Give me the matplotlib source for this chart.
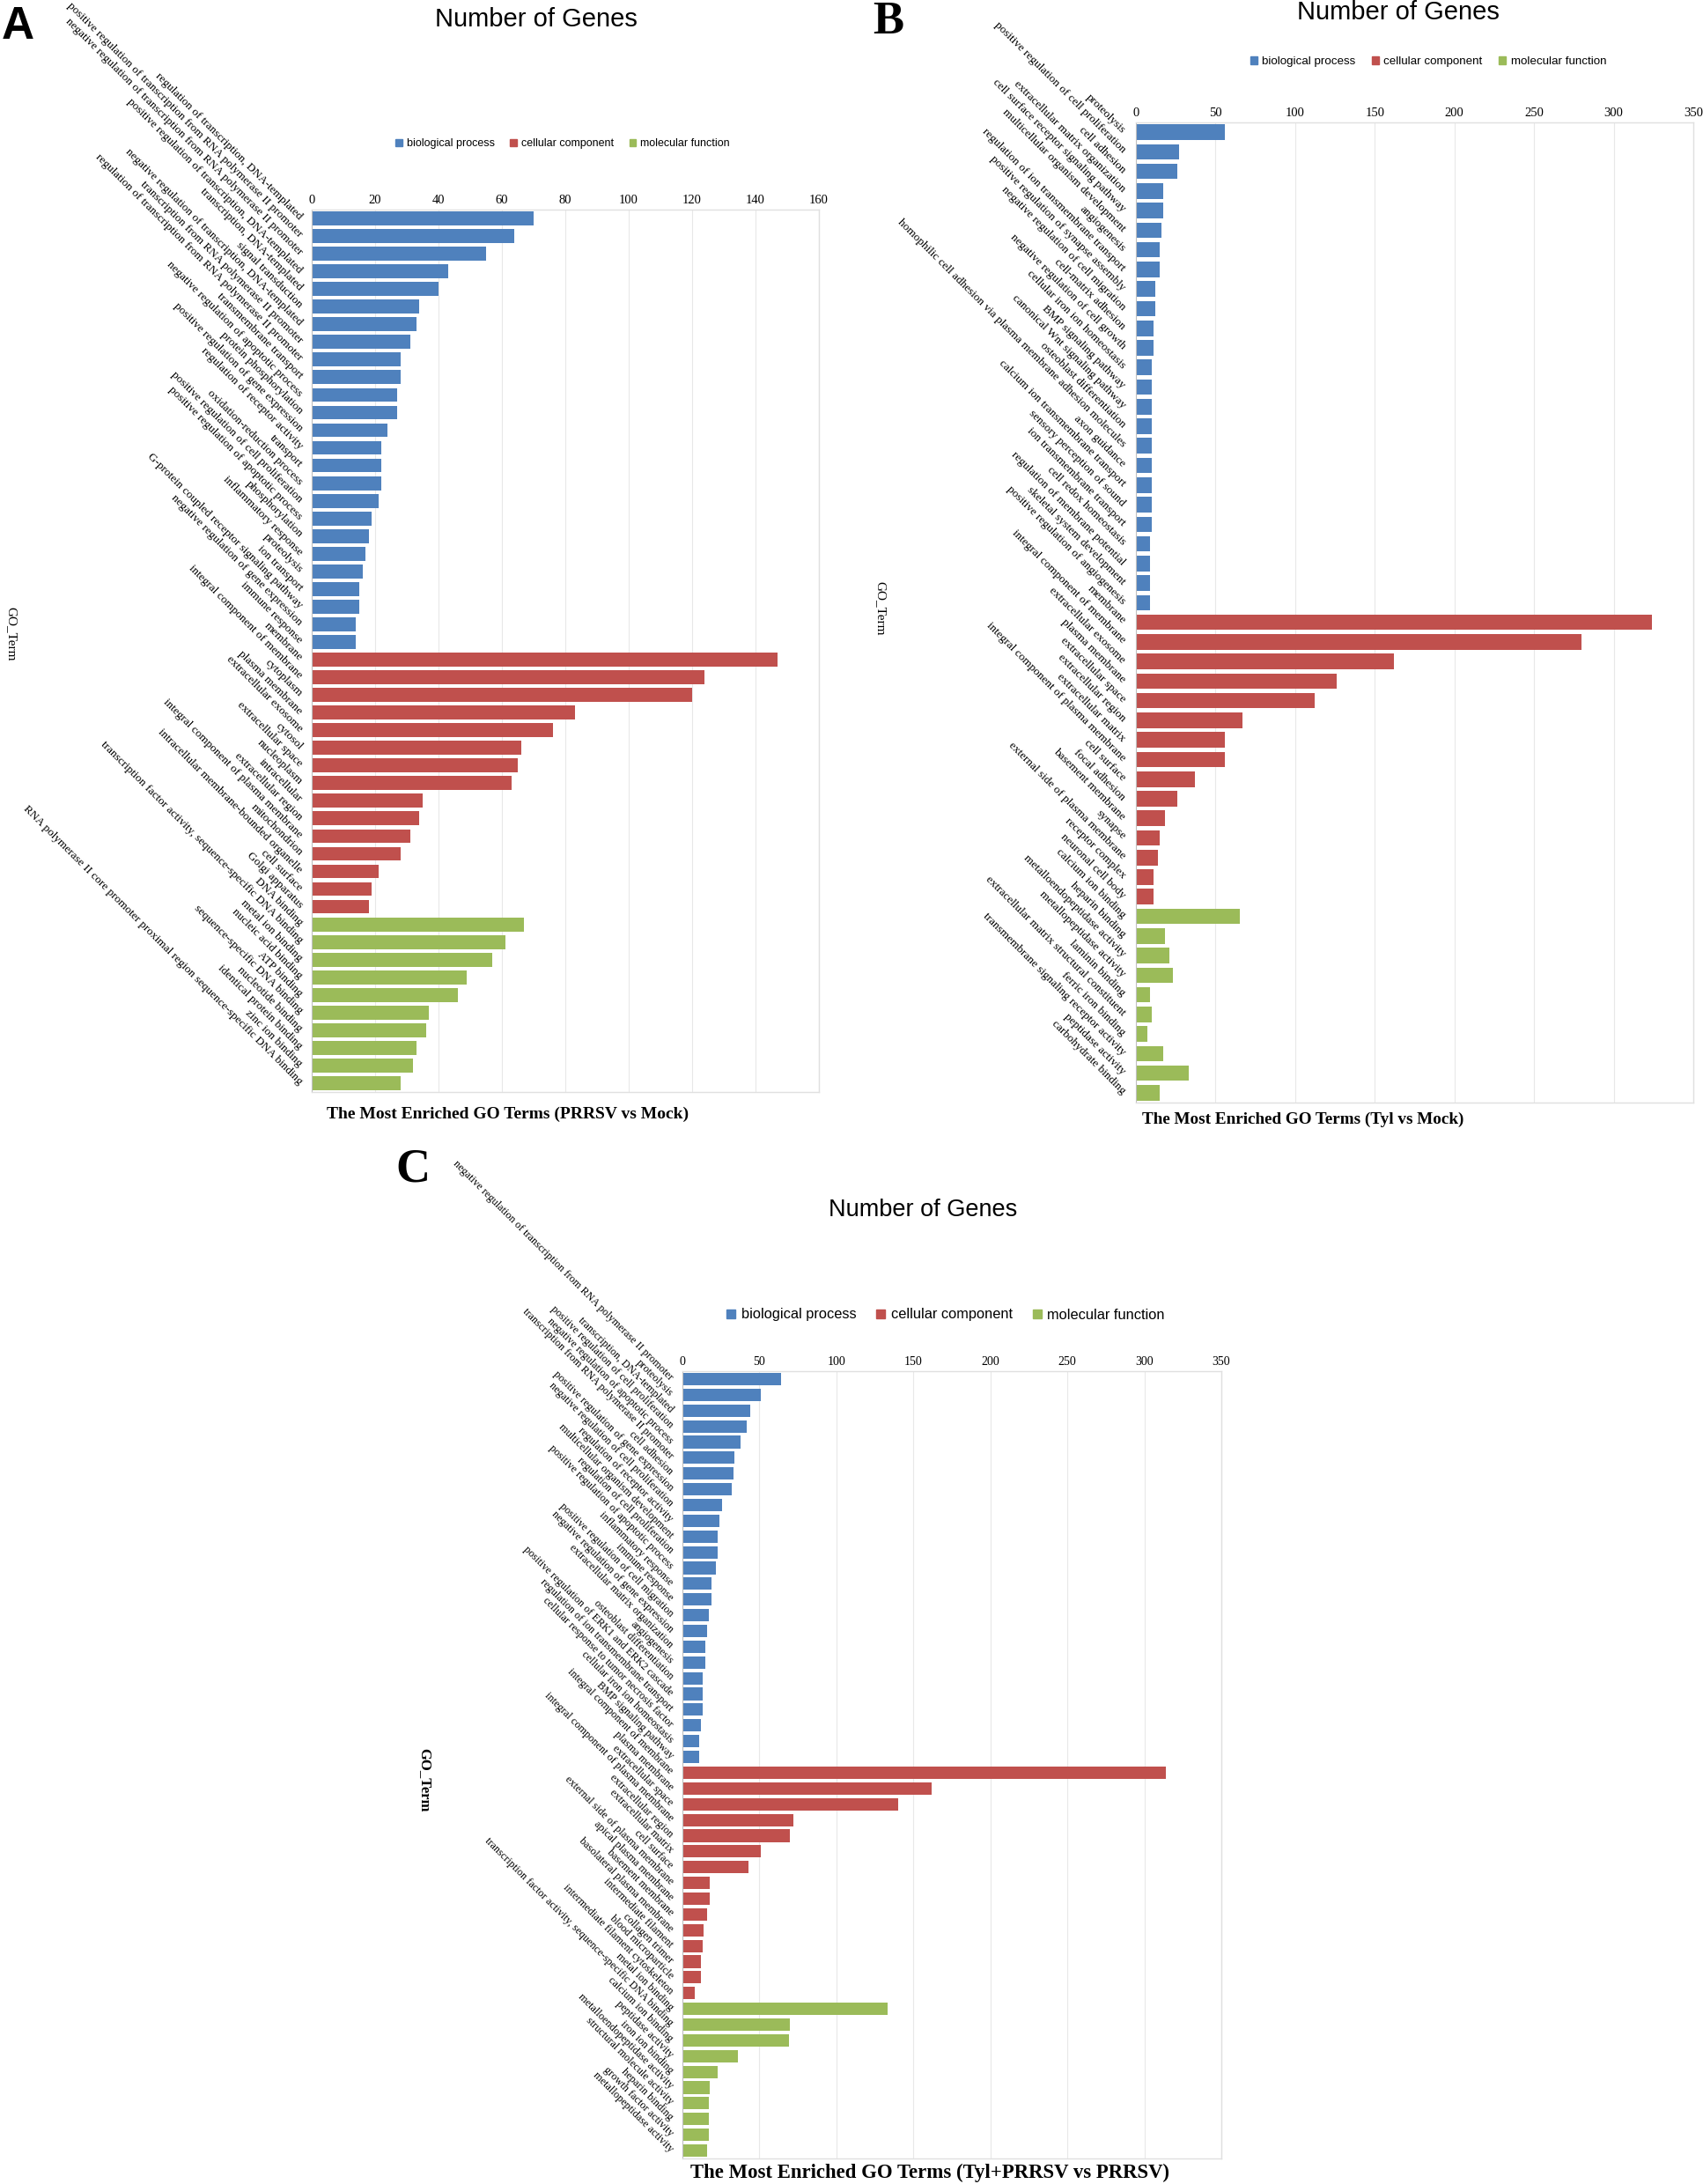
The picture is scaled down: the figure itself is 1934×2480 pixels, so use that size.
import numpy as np
import matplotlib
matplotlib.use('Agg')
import matplotlib.pyplot as plt
from matplotlib.patches import Patch

plt.rcParams['font.family'] = ['Liberation Serif', 'DejaVu Serif']

# ---------------- data: panel A (PRRSV vs Mock) ----------------
a_bp_terms = [
    'regulation of transcription, DNA-templated',
    'positive regulation of transcription from RNA polymerase II promoter',
    'negative regulation of transcription from RNA polymerase II promoter',
    'positive regulation of transcription, DNA-templated',
    'transcription, DNA-templated',
    'signal transduction',
    'negative regulation of transcription, DNA-templated',
    'transcription from RNA polymerase II promoter',
    'regulation of transcription from RNA polymerase II promoter',
    'transmembrane transport',
    'negative regulation of apoptotic process',
    'protein phosphorylation',
    'positive regulation of gene expression',
    'regulation of receptor activity',
    'transport',
    'oxidation-reduction process',
    'positive regulation of cell proliferation',
    'positive regulation of apoptotic process',
    'phosphorylation',
    'inflammatory response',
    'proteolysis',
    'ion transport',
    'G-protein coupled receptor signaling pathway',
    'negative regulation of gene expression',
    'immune response',
]
a_bp_counts = [70, 64, 55, 43, 40, 34, 33, 31, 28, 28, 27, 27, 24, 22, 22,
               22, 21, 19, 18, 17, 16, 15, 15, 14, 14]
a_cc_terms = [
    'membrane',
    'integral component of membrane',
    'cytoplasm',
    'plasma membrane',
    'extracellular exosome',
    'cytosol',
    'extracellular space',
    'nucleoplasm',
    'intracellular',
    'extracellular region',
    'integral component of plasma membrane',
    'mitochondrion',
    'intracellular membrane-bounded organelle',
    'cell surface',
    'Golgi apparatus',
]
a_cc_counts = [147, 124, 120, 83, 76, 66, 65, 63, 35, 34, 31, 28, 21, 19, 18]
a_mf_terms = [
    'DNA binding',
    'transcription factor activity, sequence-specific DNA binding',
    'metal ion binding',
    'nucleic acid binding',
    'ATP binding',
    'sequence-specific DNA binding',
    'nucleotide binding',
    'identical protein binding',
    'zinc ion binding',
    'RNA polymerase II core promoter proximal region sequence-specific DNA binding',
]
a_mf_counts = [67, 61, 57, 49, 46, 37, 36, 33, 32, 28]

# ---------------- data: panel B (Tyl vs Mock) ----------------
b_bp_terms = [
    'proteolysis',
    'positive regulation of cell proliferation',
    'cell adhesion',
    'extracellular matrix organization',
    'cell surface receptor signaling pathway',
    'multicellular organism development',
    'angiogenesis',
    'regulation of ion transmembrane transport',
    'positive regulation of synapse assembly',
    'negative regulation of cell migration',
    'cell-matrix adhesion',
    'negative regulation of cell growth',
    'cellular iron ion homeostasis',
    'BMP signaling pathway',
    'canonical Wnt signaling pathway',
    'osteoblast differentiation',
    'homophilic cell adhesion via plasma membrane adhesion molecules',
    'axon guidance',
    'calcium ion transmembrane transport',
    'sensory perception of sound',
    'ion transmembrane transport',
    'cell redox homeostasis',
    'regulation of membrane potential',
    'skeletal system development',
    'positive regulation of angiogenesis',
]
b_bp_counts = [56, 27, 26, 17, 17, 16, 15, 15, 12, 12, 11, 11, 10, 10, 10,
               10, 10, 10, 10, 10, 10, 9, 9, 9, 9]
b_cc_terms = [
    'membrane',
    'integral component of membrane',
    'extracellular exosome',
    'plasma membrane',
    'extracellular space',
    'extracellular region',
    'extracellular matrix',
    'integral component of plasma membrane',
    'cell surface',
    'focal adhesion',
    'basement membrane',
    'synapse',
    'external side of plasma membrane',
    'receptor complex',
    'neuronal cell body',
]
b_cc_counts = [324, 280, 162, 126, 112, 67, 56, 56, 37, 26, 18, 15, 14, 11, 11]
b_mf_terms = [
    'calcium ion binding',
    'heparin binding',
    'metalloendopeptidase activity',
    'metallopeptidase activity',
    'laminin binding',
    'extracellular matrix structural constituent',
    'ferric iron binding',
    'transmembrane signaling receptor activity',
    'peptidase activity',
    'carbohydrate binding',
]
b_mf_counts = [65, 18, 21, 23, 9, 10, 7, 17, 33, 15]

# ---------------- data: panel C (Tyl+PRRSV vs PRRSV) ----------------
c_bp_terms = [
    'negative regulation of transcription from RNA polymerase II promoter',
    'proteolysis',
    'transcription, DNA-templated',
    'positive regulation of cell proliferation',
    'negative regulation of apoptotic process',
    'transcription from RNA polymerase II promoter',
    'cell adhesion',
    'positive regulation of gene expression',
    'negative regulation of cell proliferation',
    'regulation of receptor activity',
    'multicellular organism development',
    'regulation of cell proliferation',
    'positive regulation of apoptotic process',
    'inflammatory response',
    'immune response',
    'positive regulation of cell migration',
    'negative regulation of gene expression',
    'extracellular matrix organization',
    'angiogenesis',
    'osteoblast differentiation',
    'positive regulation of ERK1 and ERK2 cascade',
    'regulation of ion transmembrane transport',
    'cellular response to tumor necrosis factor',
    'cellular iron ion homeostasis',
    'BMP signaling pathway',
]
c_bp_counts = [64, 51, 44, 42, 38, 34, 33, 32, 26, 24, 23, 23, 22, 19, 19,
               17, 16, 15, 15, 13, 13, 13, 12, 11, 11]
c_cc_terms = [
    'integral component of membrane',
    'plasma membrane',
    'extracellular space',
    'integral component of plasma membrane',
    'extracellular region',
    'extracellular matrix',
    'cell surface',
    'external side of plasma membrane',
    'apical plasma membrane',
    'basement membrane',
    'basolateral plasma membrane',
    'intermediate filament',
    'collagen trimer',
    'blood microparticle',
    'intermediate filament cytoskeleton',
]
c_cc_counts = [314, 162, 140, 72, 70, 51, 43, 18, 18, 16, 14, 13, 12, 12, 8]
c_mf_terms = [
    'metal ion binding',
    'transcription factor activity, sequence-specific DNA binding',
    'calcium ion binding',
    'peptidase activity',
    'iron ion binding',
    'metalloendopeptidase activity',
    'structural molecule activity',
    'heparin binding',
    'growth factor activity',
    'metallopeptidase activity',
]
c_mf_counts = [133, 70, 69, 36, 23, 18, 17, 17, 17, 16]

categories = ['biological process', 'cellular component', 'molecular function']
cat_colors = ['#4F81BD', '#C0504D', '#9BBB59']

W, H = 1934, 2480
fig = plt.figure(figsize=(W / 100, H / 100), dpi=100)


def rect(x0, y0, x1, y1):
    # pixel box -> figure fraction
    return [x0 / W, 1 - y1 / H, (x1 - x0) / W, (y1 - y0) / H]


def draw_panel(ax, groups, xmax, xstep, lab_fs, tick_fs, pad):
    terms, counts, colors = [], [], []
    for (t, c), col in zip(groups, cat_colors):
        terms += t
        counts += c
        colors += [col] * len(t)
    y = np.arange(len(terms))
    ax.barh(y, counts, height=0.79, color=colors, zorder=2)
    ax.set_ylim(len(terms) - 0.5, -0.5)
    ax.set_xlim(0, xmax)
    ax.set_xticks(np.arange(0, xmax + 1, xstep))
    ax.xaxis.tick_top()
    ax.tick_params(axis='x', length=0, pad=3, labelsize=tick_fs)
    ax.grid(axis='x', color='#e8e8e8', linewidth=0.8, zorder=0)
    ax.set_axisbelow(True)
    ax.set_yticks(y)
    ax.set_yticklabels(terms, rotation=-45, ha='right', va='center',
                       rotation_mode='anchor', fontsize=lab_fs)
    ax.tick_params(axis='y', length=0, pad=pad)
    for s in ['top', 'right', 'bottom']:
        ax.spines[s].set_color('#e0e0e0')
        ax.spines[s].set_linewidth(1.0)
    ax.spines['left'].set_color('#bfbfbf')


def add_legend(x, y, fs):
    handles = [Patch(color=c, label=l) for c, l in zip(cat_colors, categories)]
    fig.legend(handles=handles, loc='center', bbox_to_anchor=(x / W, 1 - y / H),
               ncol=3, frameon=False, handlelength=0.6, handleheight=0.6,
               handletextpad=0.4, columnspacing=1.4,
               prop={'family': 'Liberation Sans', 'size': fs})


# panel A
axA = fig.add_axes(rect(354, 238, 930, 1240))
draw_panel(axA, [(a_bp_terms, a_bp_counts), (a_cc_terms, a_cc_counts),
                 (a_mf_terms, a_mf_counts)], 160, 20, 9.5, 10.5, 9)
fig.text(609 / W, 1 - 22 / H, 'Number of Genes', family='Liberation Sans',
         fontsize=21, ha='center', va='center')
add_legend(639, 163, 9.0)
fig.text(577 / W, 1 - 1265 / H, 'The Most Enriched GO Terms (PRRSV vs Mock)',
         fontsize=14, fontweight='bold', ha='center', va='center')
fig.text(13 / W, 1 - 720 / H, 'GO_Term', rotation=270, fontsize=11,
         ha='center', va='center')
fig.text(20 / W, 1 - 31 / H, 'A', family='Liberation Sans', fontweight='bold',
         fontsize=37, ha='center', va='center')

# panel B
axB = fig.add_axes(rect(1290, 139, 1923, 1252))
draw_panel(axB, [(b_bp_terms, b_bp_counts), (b_cc_terms, b_cc_counts),
                 (b_mf_terms, b_mf_counts)], 350, 50, 9.5, 10.5, 10)
fig.text(1588 / W, 1 - 14 / H, 'Number of Genes', family='Liberation Sans',
         fontsize=21, ha='center', va='center')
add_legend(1622, 70, 9.6)
fig.text(1480 / W, 1 - 1271 / H, 'The Most Enriched GO Terms (Tyl vs Mock)',
         fontsize=13.8, fontweight='bold', ha='center', va='center')
fig.text(1000 / W, 1 - 691 / H, 'GO_Term', rotation=270, fontsize=11,
         ha='center', va='center')
fig.text(1009 / W, 1 - 25 / H, 'B', fontweight='bold', fontsize=38,
         ha='center', va='center')

# panel C
axC = fig.add_axes(rect(775, 1557, 1387, 2451))
draw_panel(axC, [(c_bp_terms, c_bp_counts), (c_cc_terms, c_cc_counts),
                 (c_mf_terms, c_mf_counts)], 350, 50, 8.8, 10, 9)
fig.text(1048 / W, 1 - 1374 / H, 'Number of Genes', family='Liberation Sans',
         fontsize=19.5, ha='center', va='center')
add_legend(1074, 1493, 11.8)
fig.text(1056 / W, 1 - 2467 / H, 'The Most Enriched GO Terms (Tyl+PRRSV vs PRRSV)',
         fontsize=16.4, fontweight='bold', ha='center', va='center')
fig.text(482 / W, 1 - 2021 / H, 'GO_Term', rotation=270, fontsize=12,
         fontweight='bold', ha='center', va='center')
fig.text(469 / W, 1 - 1329 / H, 'C', fontweight='bold', fontsize=39,
         ha='center', va='center')

fig.savefig('out.png', dpi=100)
